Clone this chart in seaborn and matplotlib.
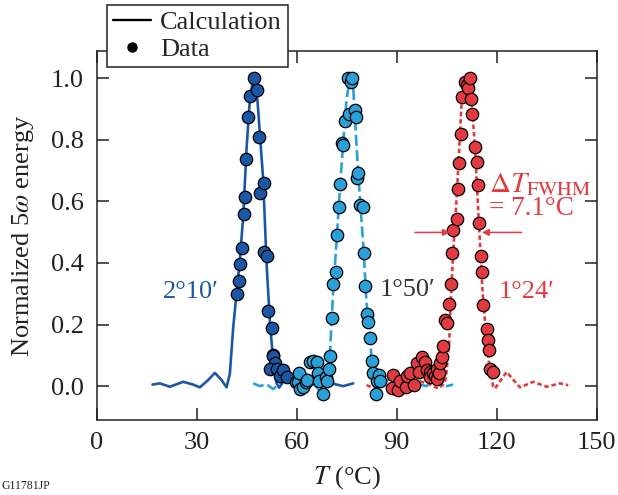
import matplotlib
matplotlib.use("Agg")
import matplotlib.pyplot as plt
from matplotlib.lines import Line2D
import seaborn as sns
import pandas as pd

# ---------------- data ----------------
# 2°10' : calculation (solid) and data
calc_a_T = [16.8, 19, 22, 26, 29, 31, 33.5, 35.5, 37.5, 39, 40, 41, 42, 43, 44, 45, 46, 47, 48, 49,
            50, 51, 52, 53, 54, 54.8, 57, 59.5, 62, 64, 67, 70.5, 74, 77]
calc_a_y = [0.005, 0.009, -0.002, 0.014, 0.005, -0.004, 0.02, 0.043, 0.02, -0.004, 0.04, 0.19, 0.30,
            0.41, 0.55, 0.77, 0.93, 1.0, 0.97, 0.82, 0.67, 0.40, 0.21, 0.08, 0.01, -0.005, 0.03, 0.01,
            -0.005, 0.002, 0.015, 0.009, 0.0, 0.009]
data_a_T = [42.1, 42.8, 43.0, 43.5, 44.1, 44.4, 44.8, 45.5, 46.0, 47.2, 48.0, 48.6, 49.1, 50.1, 50.3,
            51.1, 51.5, 52.6, 52.9, 53.0, 53.5, 52.0, 54.2, 55.0, 56.0, 57.0]
data_a_y = [0.298, 0.342, 0.398, 0.450, 0.558, 0.613, 0.736, 0.874, 0.943, 1.0, 0.961, 0.809, 0.626,
            0.658, 0.434, 0.423, 0.245, 0.190, 0.100, 0.097, 0.076, 0.054, 0.054, 0.032, 0.052, 0.030]

# 1°50' : calculation (dashed) and data
calc_b_T = [47, 49, 51, 53, 55, 57, 59, 61, 63, 65, 66.5, 68, 69.5, 70, 70.5, 71, 72, 73, 74, 75, 76,
            77, 78, 79, 80, 81, 82, 83, 84, 85, 87, 89, 91, 93, 95, 97, 99, 101, 103, 105, 107]
calc_b_y = [0.009, 0.0, 0.006, -0.01, 0.01, 0.025, 0.0, 0.02, 0.04, 0.01, -0.01, 0.02, 0.05, 0.10,
            0.21, 0.31, 0.47, 0.64, 0.79, 0.93, 1.0, 0.97, 0.78, 0.61, 0.46, 0.27, 0.15, 0.04, -0.01,
            -0.005, 0.02, 0.005, -0.005, 0.01, 0.02, 0.005, 0.0, 0.015, 0.005, 0.0, 0.005]
data_b_T = [59.8, 60.3, 60.8, 61.0, 61.8, 62.7, 63.0, 64.0, 64.8, 66.0, 66.5, 66.8, 67.8, 68.7, 69.0,
            69.6, 70.1, 70.5, 71.0, 71.8, 72.2, 72.6, 73.1, 73.5, 74.0, 74.5, 75.3, 75.7, 76.2, 76.7,
            77.5, 77.8, 78.2, 78.5, 79.0, 79.8, 80.3, 80.6, 81.0, 81.5, 82.1, 82.5, 83.0, 84.0, 83.8,
            84.7, 85.0]
data_b_y = [0.014, 0.014, 0.041, -0.008, -0.004, 0.014, 0.019, 0.079, 0.082, 0.079, 0.044, 0.017,
            -0.024, 0.030, 0.017, 0.057, 0.097, 0.220, 0.330, 0.369, 0.490, 0.582, 0.656, 0.790, 0.782,
            0.861, 1.0, 0.885, 0.988, 1.0, 0.898, 0.874, 0.676, 0.692, 0.588, 0.582, 0.433, 0.325,
            0.233, 0.209, 0.155, 0.081, 0.041, 0.016, -0.024, 0.036, 0.017]

# 1°24' : calculation (dotted) and data
calc_c_T = [81, 83, 85, 87, 89, 91, 93, 95, 97, 99, 101, 102.5, 104, 104.8, 105.8, 106.3, 107, 108,
            108.8, 109.5, 111, 112, 112.5, 113.5, 114.2, 115, 115.8, 116.8, 117.8, 119, 119.5, 123,
            127, 131, 135, 139, 141.5]
calc_c_y = [0.003, -0.005, 0.005, 0.0, 0.008, -0.003, 0.01, 0.0, 0.015, 0.01, 0.0, -0.008, 0.005,
            0.025, 0.144, 0.285, 0.436, 0.609, 0.772, 0.923, 1.0, 1.0, 0.934, 0.772, 0.631, 0.469,
            0.306, 0.176, 0.068, -0.002, -0.008, 0.046, -0.004, 0.014, -0.002, 0.009, 0.003]
data_c_T = [88.5, 89.0, 90.5, 91.0, 92.8, 93.0, 94.0, 95.2, 96.0, 96.8, 97.5, 98.5, 99.0, 100.0, 100.0,
            101.0, 101.5, 102.0, 102.0, 102.8, 103.0, 103.5, 104.0, 104.5, 105.0, 105.8, 106.2, 106.7,
            107.0, 108.0, 108.3, 108.8, 109.2, 109.7, 110.5, 111.0, 111.5, 112.0, 112.3, 112.5, 113.5,
            114.0, 114.5, 114.8, 115.2, 115.6, 116.0, 117.0, 117.3, 117.8, 118.0, 119.0]
data_c_y = [-0.005, 0.036, -0.011, 0.017, -0.004, 0.032, 0.041, 0.003, 0.076, 0.046, 0.093, 0.079,
            0.052, 0.046, 0.030, 0.041, 0.033, 0.022, 0.057, 0.041, 0.074, 0.095, 0.130, 0.214, 0.204,
            0.266, 0.333, 0.433, 0.506, 0.544, 0.640, 0.723, 0.817, 0.939, 0.988, 0.977, 0.968, 1.0,
            0.931, 0.882, 0.777, 0.728, 0.653, 0.531, 0.423, 0.371, 0.265, 0.187, 0.149, 0.117, 0.055,
            0.046]

x_ticks = [0, 30, 60, 90, 120, 150]
y_ticks = [0.0, 0.2, 0.4, 0.6, 0.8, 1.0]

c_dark = "#1b57a5"
c_light = "#2aa0d8"
c_red = "#e23a40"

# ---------------- style ----------------
sns.set_theme(style="ticks")
plt.rcParams["font.family"] = ["Liberation Serif", "DejaVu Serif"]
plt.rcParams["mathtext.fontset"] = "stix"
plt.rcParams["axes.linewidth"] = 1.1

fig = plt.figure(figsize=(6.18, 4.95), dpi=100)
ax = fig.add_axes([96.5 / 618, (495 - 419.7) / 495, (596.6 - 96.5) / 618, (419.7 - 51) / 495])

df_ca = pd.DataFrame({"T": calc_a_T, "y": calc_a_y})
df_cb = pd.DataFrame({"T": calc_b_T, "y": calc_b_y})
df_cc = pd.DataFrame({"T": calc_c_T, "y": calc_c_y})
df_da = pd.DataFrame({"T": data_a_T, "y": data_a_y})
df_db = pd.DataFrame({"T": data_b_T, "y": data_b_y})
df_dc = pd.DataFrame({"T": data_c_T, "y": data_c_y})

lw = 1.9
sns.lineplot(data=df_cc, x="T", y="y", ax=ax, color=c_red, lw=lw, estimator=None,
             linestyle=(0, (1.7, 1.1)), zorder=2)
sns.lineplot(data=df_cb, x="T", y="y", ax=ax, color=c_light, lw=lw, estimator=None,
             linestyle=(0, (4.2, 1.6)), zorder=2)
sns.lineplot(data=df_ca, x="T", y="y", ax=ax, color=c_dark, lw=lw, estimator=None, zorder=2)

ms = 80
for df, c in [(df_da, c_dark), (df_db, c_light), (df_dc, c_red)]:
    sns.scatterplot(data=df, x="T", y="y", ax=ax, color=c, s=ms, edgecolor="black",
                    linewidth=0.9, zorder=3)

ax.set_xlim(0, 150)
ax.set_ylim(-0.109, 1.088)
ax.set_xticks(x_ticks)
ax.set_yticks(y_ticks)
ax.set_xticklabels([str(v) for v in x_ticks])
ax.set_yticklabels([f"{v:.1f}" for v in y_ticks])
ax.tick_params(axis="both", which="both", direction="in", length=8.5, width=1.1,
               labelsize=19, colors="#222222", top=True, right=True, pad=9)
for s in ax.spines.values():
    s.set_color("#222222")
    s.set_visible(True)

ax.set_xlabel(r"$T$ (°C)", fontsize=19, labelpad=7, color="#222222")
ax.set_ylabel(r"Normalized 5$\omega$ energy", fontsize=19, labelpad=11, color="#222222")

# curve labels
ax.text(28.2, 0.306, "2°10′", color=c_dark, fontsize=19, ha="center", va="center")
ax.text(93.4, 0.312, "1°50′", color="#333333", fontsize=19, ha="center", va="center")
ax.text(129.0, 0.306, "1°24′", color=c_red, fontsize=19, ha="center", va="center")
ax.text(117.8, 0.655, r"$\Delta T_{\rm FWHM}$", color=c_red, fontsize=21, ha="left", va="center")
ax.text(117.6, 0.577, "= 7.1°C", color=c_red, fontsize=19.5, ha="left", va="center")

arrow_kw = dict(arrowstyle="-|>", color=c_red, lw=1.1, mutation_scale=10, shrinkA=0, shrinkB=0)
ax.annotate("", xy=(106.0, 0.499), xytext=(95.5, 0.499), arrowprops=arrow_kw)
ax.annotate("", xy=(115.6, 0.499), xytext=(127.5, 0.499), arrowprops=arrow_kw)

# legend
handles = [Line2D([], [], color="black", lw=1.7),
           Line2D([], [], color="black", marker="o", linestyle="none", markersize=6.5)]
leg = fig.legend(handles, ["Calculation", "Data"], loc="upper left",
                 bbox_to_anchor=(107 / 618, 1 - 5 / 495), fontsize=19, frameon=True,
                 fancybox=False, edgecolor="#222222", framealpha=1, handlelength=1.45,
                 handletextpad=0.35, borderpad=0.22, labelspacing=0.12, borderaxespad=0)
leg.get_frame().set_linewidth(1.1)

fig.text(0.002, 9 / 495, "G11781JP", fontsize=8.5, color="#222222", ha="left", va="center")

fig.savefig("out.png", dpi=100)
